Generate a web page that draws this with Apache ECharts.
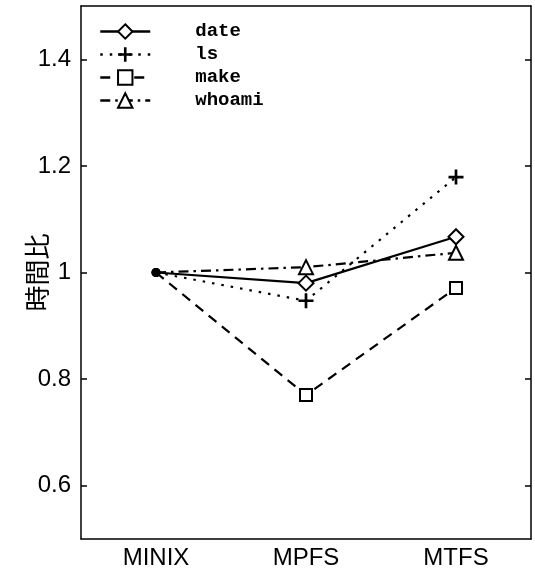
<!DOCTYPE html>
<html>
<head>
<meta charset="utf-8">
<script src="https://cdn.jsdelivr.net/npm/echarts@6/dist/echarts.min.js"></script>
<style>html,body{margin:0;padding:0;background:#fff;}#c{width:535px;height:574px;}</style>
</head>
<body>
<div id="c"></div>
<script>
var categories = ['MINIX', 'MPFS', 'MTFS'];
var seriesNames = ['date', 'ls', 'make', 'whoami'];
var dateValues = [1.0, 0.980, 1.067];
var lsValues = [1.0, 0.947, 1.179];
var makeValues = [1.0, 0.770, 0.971];
var whoamiValues = [1.0, 1.010, 1.037];
var yTicks = [0.6, 0.8, 1.0, 1.2, 1.4];
var yMin = 0.5, yMax = 1.5;

var plusPath = 'path://M4.1,0H5.9V4.1H10V5.9H5.9V10H4.1V5.9H0V4.1H4.1Z';
var styles = [
  {symbol: 'diamond', size: 15, dash: 'solid', fill: '#fff'},
  {symbol: plusPath, size: 15, dash: [2.5, 7], fill: '#000'},
  {symbol: 'rect', size: 12, dash: [10, 7], fill: '#fff'},
  {symbol: 'triangle', size: 14, dash: [10, 5, 2.5, 5], fill: '#fff'}
];
var allValues = [dateValues, lsValues, makeValues, whoamiValues];

function buildData(vals) {
  return vals.map(function (v, i) {
    if (i === 0) {
      return {value: v, symbol: 'circle', symbolSize: 7, itemStyle: {color: '#000', borderColor: '#000'}};
    }
    return v;
  });
}

var series = seriesNames.map(function (name, k) {
  var st = styles[k];
  return {
    name: name,
    type: 'line',
    data: buildData(allValues[k]),
    symbol: st.symbol,
    symbolSize: st.size,
    showAllSymbol: true,
    lineStyle: {color: '#000', width: 2.2, type: st.dash},
    itemStyle: {color: st.fill, borderColor: '#000', borderWidth: st.symbol === plusPath ? 0 : 2},
    animation: false,
    z: 3
  };
});

var labelFont = {fontFamily: 'Liberation Sans, Arial, sans-serif', fontSize: 24, color: '#000'};

var option = {
  backgroundColor: '#fff',
  animation: false,
  grid: {left: 81, right: 4, top: 6, bottom: 35, containLabel: false, outerBoundsMode: 'none'},
  legend: {
    data: seriesNames,
    orient: 'vertical',
    left: 94,
    top: 17,
    itemWidth: 50,
    itemHeight: 18,
    itemGap: 4,
    lineStyle: {width: 2.5},
    textStyle: {fontFamily: 'Liberation Mono, Courier New, monospace', fontWeight: 'bold', fontSize: 19, lineHeight: 18, color: '#000', padding: [0, 0, 0, 40]},
    inactiveColor: '#000'
  },
  xAxis: [
    {
      type: 'category', data: categories, position: 'bottom', boundaryGap: true,
      axisLine: {lineStyle: {color: '#000', width: 1.5}},
      axisTick: {inside: true, alignWithLabel: true, length: 6, lineStyle: {color: '#000', width: 1.5}},
      axisLabel: Object.assign({margin: 7}, labelFont),
      splitLine: {show: false}
    },
    {
      type: 'category', data: categories, position: 'top', boundaryGap: true,
      axisLine: {lineStyle: {color: '#000', width: 1.5}},
      axisTick: {inside: true, alignWithLabel: true, length: 6, lineStyle: {color: '#000', width: 1.5}},
      axisLabel: {show: false},
      splitLine: {show: false}
    }
  ],
  yAxis: [
    {
      type: 'value', min: yMin, max: yMax, position: 'left',
      name: '時間比', nameLocation: 'middle', nameGap: 31, nameRotate: 90, nameMoveOverlap: false,
      nameTextStyle: {fontFamily: 'Noto Sans CJK JP, sans-serif', fontSize: 26, color: '#000'},
      axisLine: {show: true, lineStyle: {color: '#000', width: 1.5}},
      axisTick: {show: true, inside: true, length: 6, customValues: yTicks, lineStyle: {color: '#000', width: 1.5}},
      axisLabel: Object.assign({margin: 10, customValues: yTicks, formatter: function (v) { return String(+v.toFixed(1)); }}, labelFont),
      splitLine: {show: false}
    },
    {
      type: 'value', min: yMin, max: yMax, position: 'right',
      axisLine: {show: true, lineStyle: {color: '#000', width: 1.5}},
      axisTick: {show: true, inside: true, length: 6, customValues: yTicks, lineStyle: {color: '#000', width: 1.5}},
      axisLabel: {show: false},
      splitLine: {show: false}
    }
  ],
  series: series
};

var chart = echarts.init(document.getElementById('c'), null, {renderer: 'canvas'});
chart.setOption(option);
</script>
</body>
</html>
